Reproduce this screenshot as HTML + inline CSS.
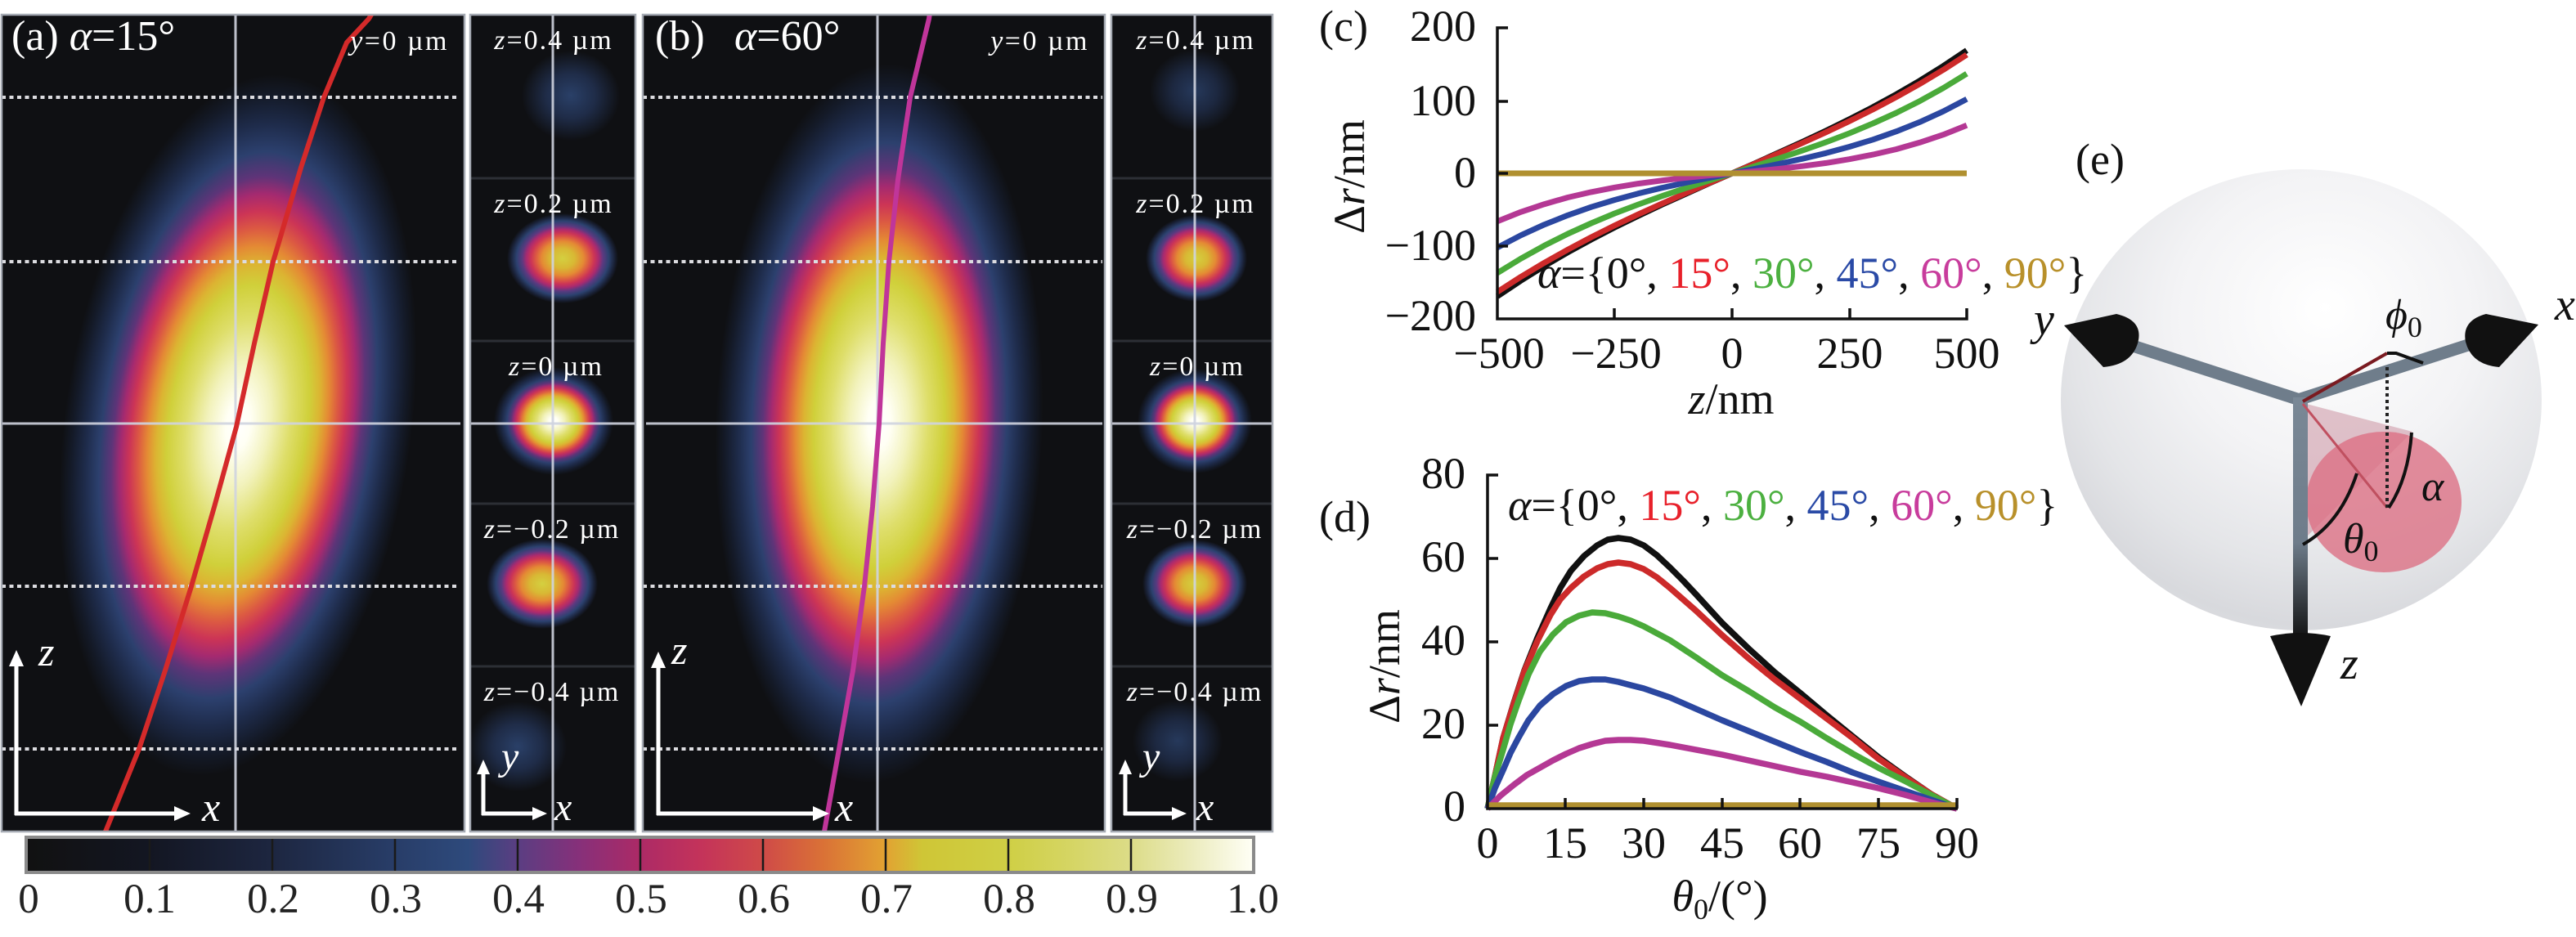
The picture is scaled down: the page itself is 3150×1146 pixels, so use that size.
<!DOCTYPE html>
<html><head><meta charset="utf-8"><style>
html,body{margin:0;padding:0;background:#fff}
#wrap{position:relative;width:3150px;height:1146px;overflow:hidden;font-family:"Liberation Serif","Noto Serif CJK SC","DejaVu Serif",serif}
svg{display:block;position:absolute;left:0;top:0}
.t{position:absolute;white-space:nowrap;line-height:0;font-family:"Liberation Serif","Noto Serif CJK SC","DejaVu Serif",serif;color:#111}
.m{transform:translateX(-50%)}
.e{transform:translateX(-100%)}
.t i{font-style:italic}
.s{font-size:36px;position:relative;top:10px;font-style:normal}
.w{color:#fff}
.rot{position:absolute;width:0;height:0;transform:rotate(-90deg);transform-origin:0 0}
</style></head>
<body>
<div id="wrap">
<svg width="3150" height="1146" viewBox="0 0 3150 1146" xmlns="http://www.w3.org/2000/svg">
<defs>
<radialGradient id="hot" cx="0.5" cy="0.5" r="0.5">
<stop offset="0" stop-color="#ffffff"/><stop offset="0.07" stop-color="#fffff4"/><stop offset="0.18" stop-color="#f2f2bc"/>
<stop offset="0.3" stop-color="#dede6a"/><stop offset="0.4" stop-color="#d0d03a"/><stop offset="0.46" stop-color="#dcb432"/>
<stop offset="0.51" stop-color="#e48a34"/><stop offset="0.56" stop-color="#dc5a42"/><stop offset="0.61" stop-color="#cc3456"/>
<stop offset="0.66" stop-color="#a42a70"/><stop offset="0.71" stop-color="#5e3478"/><stop offset="0.78" stop-color="#2c406e"/>
<stop offset="0.86" stop-color="#1e2b4a"/><stop offset="0.94" stop-color="#141a28"/><stop offset="1" stop-color="#0f1013"/>
</radialGradient>
<radialGradient id="mid" cx="0.5" cy="0.5" r="0.5">
<stop offset="0" stop-color="#d4d040"/><stop offset="0.22" stop-color="#d8b834"/><stop offset="0.38" stop-color="#e48a34"/>
<stop offset="0.48" stop-color="#dc5a42"/><stop offset="0.57" stop-color="#cc3456"/><stop offset="0.65" stop-color="#a82a70"/>
<stop offset="0.73" stop-color="#5a3a80"/><stop offset="0.83" stop-color="#2c4270"/><stop offset="0.93" stop-color="#1a2238"/>
<stop offset="1" stop-color="#0f1013"/>
</radialGradient>
<radialGradient id="faint" cx="0.5" cy="0.5" r="0.5">
<stop offset="0" stop-color="#2a4068"/><stop offset="0.5" stop-color="#1f2c48"/><stop offset="1" stop-color="#0f1013"/>
</radialGradient>
<linearGradient id="cbar" x1="0" y1="0" x2="1" y2="0">
<stop offset="0" stop-color="#111111"/><stop offset="0.1" stop-color="#131622"/><stop offset="0.2" stop-color="#1d2640"/>
<stop offset="0.3" stop-color="#283d68"/><stop offset="0.36" stop-color="#2e4a7c"/><stop offset="0.4" stop-color="#5a3e82"/>
<stop offset="0.45" stop-color="#86307a"/><stop offset="0.5" stop-color="#ac2a66"/><stop offset="0.55" stop-color="#c4335a"/>
<stop offset="0.6" stop-color="#cf4a48"/><stop offset="0.65" stop-color="#da7236"/><stop offset="0.7" stop-color="#e2a232"/>
<stop offset="0.73" stop-color="#cfc636"/><stop offset="0.8" stop-color="#cfcf45"/><stop offset="0.85" stop-color="#d5d563"/>
<stop offset="0.9" stop-color="#dcdc88"/><stop offset="0.95" stop-color="#ececbe"/><stop offset="1" stop-color="#fffff6"/>
</linearGradient>
<radialGradient id="sph" cx="0.55" cy="0.35" r="0.7" fx="0.55" fy="0.3">
<stop offset="0" stop-color="#ffffff"/><stop offset="0.45" stop-color="#f3f3f5"/><stop offset="0.75" stop-color="#e4e5e8"/>
<stop offset="0.92" stop-color="#d8d9dd"/><stop offset="1" stop-color="#dcdde0"/>
</radialGradient>
<linearGradient id="zarm" x1="0" y1="0" x2="0" y2="1">
<stop offset="0" stop-color="#7a8896"/><stop offset="0.6" stop-color="#6e7c8a"/><stop offset="1" stop-color="#111"/>
</linearGradient>
<clipPath id="ca"><rect x="2" y="18" width="566" height="999"/></clipPath>
<clipPath id="cas"><rect x="575" y="18" width="202" height="999"/></clipPath>
<clipPath id="cb"><rect x="786" y="18" width="565" height="999"/></clipPath>
<clipPath id="cbs"><rect x="1359" y="18" width="197" height="999"/></clipPath>
</defs>
<rect width="3150" height="1146" fill="#fff"/>

<!-- Panel (a) main -->
<g clip-path="url(#ca)">
<rect x="2" y="18" width="566" height="999" fill="#0f1013"/>
<ellipse cx="291" cy="520" rx="212" ry="432" fill="url(#hot)" transform="rotate(8 291 520)"/>
<g stroke="#dcdce0" stroke-width="4" stroke-dasharray="5 4.5">
<line x1="2" y1="119" x2="562" y2="119"/><line x1="2" y1="320" x2="562" y2="320"/>
<line x1="2" y1="717" x2="562" y2="717"/><line x1="2" y1="916" x2="562" y2="916"/>
</g>
<line x1="2" y1="518" x2="563" y2="518" stroke="#d0d4e0" stroke-width="3" opacity="0.9"/>
<line x1="288" y1="18" x2="288" y2="1017" stroke="#d0d4e0" stroke-width="3" opacity="0.9"/>
<polyline points="460,8 451,23 424,52 396,119 368,205 334,320 311,420 289,522 262,620 234,717 202,820 170,916 129,1017 124,1030" fill="none" stroke="#d42a2a" stroke-width="6" stroke-linejoin="round"/>
</g>
<rect x="2" y="18" width="566" height="999" fill="none" stroke="#a5aab3" stroke-width="2.5"/>
<g stroke="#fff" stroke-width="5" fill="none"><line x1="20" y1="997" x2="20" y2="812"/><line x1="18" y1="995" x2="215" y2="995"/></g>
<polygon points="20,795 11,815 29,815" fill="#fff"/><polygon points="233,995 213,986 213,1004" fill="#fff"/>

<!-- Panel (a) side -->
<g clip-path="url(#cas)">
<rect x="575" y="18" width="202" height="999" fill="#0f1013"/>
<ellipse cx="698" cy="117" rx="60" ry="55" fill="url(#faint)"/>
<ellipse cx="688" cy="316" rx="68" ry="55" fill="url(#mid)"/>
<ellipse cx="677" cy="515" rx="73" ry="66" fill="url(#hot)"/>
<ellipse cx="663" cy="714" rx="68" ry="55" fill="url(#mid)"/>
<ellipse cx="633" cy="913" rx="60" ry="55" fill="url(#faint)"/>
<g stroke="#2c2f35" stroke-width="3"><line x1="575" y1="218" x2="777" y2="218"/><line x1="575" y1="417" x2="777" y2="417"/><line x1="575" y1="616" x2="777" y2="616"/><line x1="575" y1="815" x2="777" y2="815"/></g>
<line x1="575" y1="518" x2="777" y2="518" stroke="#d0d4e0" stroke-width="3" opacity="0.9"/>
<line x1="676" y1="18" x2="676" y2="1017" stroke="#d0d4e0" stroke-width="3" opacity="0.9"/>
</g>
<rect x="575" y="18" width="202" height="999" fill="none" stroke="#a5aab3" stroke-width="2.5"/>
<g stroke="#fff" stroke-width="5" fill="none"><line x1="591" y1="997" x2="591" y2="945"/><line x1="589" y1="995" x2="652" y2="995"/></g>
<polygon points="591,929 583,947 599,947" fill="#fff"/><polygon points="669,995 651,987 651,1003" fill="#fff"/>

<!-- Panel (b) main -->
<g clip-path="url(#cb)">
<rect x="786" y="18" width="565" height="999" fill="#0f1013"/>
<ellipse cx="1075" cy="518" rx="200" ry="440" fill="url(#hot)" transform="rotate(2 1075 518)"/>
<g stroke="#dcdce0" stroke-width="4" stroke-dasharray="5 4.5">
<line x1="786" y1="119" x2="1348" y2="119"/><line x1="786" y1="320" x2="1348" y2="320"/>
<line x1="786" y1="717" x2="1348" y2="717"/><line x1="786" y1="916" x2="1348" y2="916"/>
</g>
<line x1="790" y1="518" x2="1348" y2="518" stroke="#d0d4e0" stroke-width="3" opacity="0.9"/>
<line x1="1073" y1="18" x2="1073" y2="1017" stroke="#d0d4e0" stroke-width="3" opacity="0.9"/>
<polyline points="1138,8 1136,23 1113,119 1098,220 1087,320 1080,420 1075,518 1067,620 1057,717 1043,820 1026,916 1008,1017 1005,1030" fill="none" stroke="#c0359a" stroke-width="6" stroke-linejoin="round"/>
</g>
<rect x="786" y="18" width="565" height="999" fill="none" stroke="#a5aab3" stroke-width="2.5"/>
<g stroke="#fff" stroke-width="5" fill="none"><line x1="805" y1="997" x2="805" y2="814"/><line x1="803" y1="995" x2="996" y2="995"/></g>
<polygon points="805,797 796,817 814,817" fill="#fff"/><polygon points="1014,995 994,986 994,1004" fill="#fff"/>

<!-- Panel (b) side -->
<g clip-path="url(#cbs)">
<rect x="1359" y="18" width="197" height="999" fill="#0f1013"/>
<ellipse cx="1461" cy="111" rx="55" ry="50" fill="url(#faint)" opacity="0.85"/>
<ellipse cx="1463" cy="316" rx="62" ry="53" fill="url(#mid)"/>
<ellipse cx="1461" cy="515" rx="70" ry="64" fill="url(#hot)"/>
<ellipse cx="1461" cy="714" rx="64" ry="54" fill="url(#mid)"/>
<ellipse cx="1440" cy="906" rx="55" ry="50" fill="url(#faint)" opacity="0.85"/>
<g stroke="#2c2f35" stroke-width="3"><line x1="1359" y1="218" x2="1556" y2="218"/><line x1="1359" y1="417" x2="1556" y2="417"/><line x1="1359" y1="616" x2="1556" y2="616"/><line x1="1359" y1="815" x2="1556" y2="815"/></g>
<line x1="1359" y1="518" x2="1556" y2="518" stroke="#d0d4e0" stroke-width="3" opacity="0.9"/>
<line x1="1461" y1="18" x2="1461" y2="1017" stroke="#d0d4e0" stroke-width="3" opacity="0.9"/>
</g>
<rect x="1359" y="18" width="197" height="999" fill="none" stroke="#a5aab3" stroke-width="2.5"/>
<g stroke="#fff" stroke-width="5" fill="none"><line x1="1376" y1="997" x2="1376" y2="945"/><line x1="1374" y1="995" x2="1433" y2="995"/></g>
<polygon points="1376,929 1368,947 1384,947" fill="#fff"/><polygon points="1451,995 1433,987 1433,1003" fill="#fff"/>

<!-- Colorbar -->
<rect x="32" y="1024" width="1501" height="43" fill="url(#cbar)" stroke="#8a8a8a" stroke-width="4"/>
<g stroke="#1a1a1a" stroke-width="2.5">
<line x1="183" y1="1026" x2="183" y2="1065"/><line x1="333" y1="1026" x2="333" y2="1065"/><line x1="483" y1="1026" x2="483" y2="1065"/>
<line x1="633" y1="1026" x2="633" y2="1065"/><line x1="783" y1="1026" x2="783" y2="1065"/><line x1="933" y1="1026" x2="933" y2="1065"/>
<line x1="1083" y1="1026" x2="1083" y2="1065"/><line x1="1233" y1="1026" x2="1233" y2="1065"/><line x1="1383" y1="1026" x2="1383" y2="1065"/>
</g>

<!-- Panel (c) -->
<g fill="none" stroke-width="7" stroke-linejoin="round">
<polyline stroke="#111" points="1831,362.4 1859.7,343.3 1888.4,325.4 1917.1,308.7 1945.8,293 1974.5,278.2 2003.2,264.1 2031.9,250.5 2060.6,237.5 2089.3,224.6 2118,212 2146.7,199.4 2175.4,186.5 2204.1,173.5 2232.8,159.9 2261.5,145.8 2290.2,131 2318.9,115.3 2347.6,98.6 2376.3,80.7 2405,61.6"/>
<polyline stroke="#cc2a2a" points="1831,357.1 1859.7,338.6 1888.4,321.4 1917.1,305.3 1945.8,290.1 1974.5,275.8 2003.2,262.2 2031.9,249.2 2060.6,236.6 2089.3,224.2 2118,212 2146.7,199.8 2175.4,187.4 2204.1,174.8 2232.8,161.8 2261.5,148.2 2290.2,133.9 2318.9,118.7 2347.6,102.6 2376.3,85.4 2405,66.9"/>
<polyline stroke="#4aaa3a" points="1831,333.9 1859.7,316.3 1888.4,300.4 1917.1,286 1945.8,273 1974.5,261 2003.2,250.1 2031.9,239.9 2060.6,230.3 2089.3,221.1 2118,212 2146.7,202.9 2175.4,193.7 2204.1,184.1 2232.8,173.9 2261.5,163 2290.2,151 2318.9,138 2347.6,123.6 2376.3,107.7 2405,90.1"/>
<polyline stroke="#2b47a0" points="1831,302.8 1859.7,287.8 1888.4,274.7 1917.1,263.3 1945.8,253.2 1974.5,244.5 2003.2,236.7 2031.9,229.8 2060.6,223.6 2089.3,217.7 2118,212 2146.7,206.3 2175.4,200.4 2204.1,194.2 2232.8,187.3 2261.5,179.5 2290.2,170.8 2318.9,160.7 2347.6,149.3 2376.3,136.2 2405,121.2"/>
<polyline stroke="#b43894" points="1831,270.7 1859.7,259.3 1888.4,249.7 1917.1,241.5 1945.8,234.9 1974.5,229.3 2003.2,224.6 2031.9,220.8 2060.6,217.5 2089.3,214.7 2118,212 2146.7,209.3 2175.4,206.5 2204.1,203.2 2232.8,199.4 2261.5,194.7 2290.2,189.1 2318.9,182.5 2347.6,174.3 2376.3,164.7 2405,153.3"/>
<line x1="1831" y1="212" x2="2405" y2="212" stroke="#b09030"/>
</g>
<g stroke="#111" stroke-width="3.5" fill="none">
<polyline points="1844,34 1831,34 1831,390 2405,390 2405,377"/>
<line x1="1831" y1="124" x2="1844" y2="124"/><line x1="1831" y1="212" x2="1844" y2="212"/><line x1="1831" y1="301" x2="1844" y2="301"/>
<line x1="1974" y1="390" x2="1974" y2="377"/><line x1="2118" y1="390" x2="2118" y2="377"/><line x1="2262" y1="390" x2="2262" y2="377"/>
</g>

<!-- Panel (d) -->
<g fill="none" stroke-width="7.5" stroke-linejoin="round">
<polyline stroke="#111" points="1819,989 1829,945 1838,903 1851,860 1864,820 1880,780 1896,744 1908,719 1921,698 1937,680 1953,667 1966,660 1979,658 1994,660 2010,667 2026,679 2042,694 2058,710 2074,727 2106,762 2138,793 2170,822 2202,848 2234,875 2266,901 2297,926 2329,949 2361,971 2393,989"/>
<polyline stroke="#cc2a2a" points="1819,989 1829,945 1838,903 1851,861 1864,821 1880,784 1896,752 1908,733 1921,719 1937,705 1953,695 1966,690 1979,688 1994,690 2010,696 2026,706 2042,719 2058,733 2074,747 2106,777 2138,805 2170,831 2202,855 2234,879 2266,903 2297,928 2329,950 2361,971 2393,989"/>
<polyline stroke="#4aaa3a" points="1819,989 1828,950 1838,917 1847,886 1857,857 1869,825 1883,797 1899,776 1915,761 1931,753 1947,749 1963,750 1979,754 1994,759 2010,766 2042,783 2074,804 2106,826 2138,845 2170,865 2202,883 2234,903 2266,922 2297,939 2329,955 2361,972 2393,989"/>
<polyline stroke="#2b47a0" points="1819,989 1828,964 1838,942 1847,921 1857,902 1869,881 1883,863 1899,849 1915,839 1931,833 1947,831 1963,831 1979,834 1994,838 2010,842 2042,853 2074,867 2106,881 2138,894 2170,907 2202,920 2234,932 2266,945 2297,956 2329,967 2361,978 2393,989"/>
<polyline stroke="#b43894" points="1819,989 1835,973 1851,960 1867,948 1883,939 1899,930 1915,922 1931,915 1947,910 1963,906 1979,905 1994,905 2010,906 2042,911 2074,917 2106,923 2138,930 2170,937 2202,944 2234,950 2266,957 2297,964 2329,972 2361,981 2393,989"/>
<line x1="1819" y1="985" x2="2393" y2="985" stroke="#b09030"/>
</g>
<g stroke="#111" stroke-width="3.5" fill="none">
<polyline points="1832,581 1819,581 1819,989 2394,989"/>
<line x1="1819" y1="683" x2="1832" y2="683"/><line x1="1819" y1="785" x2="1832" y2="785"/><line x1="1819" y1="887" x2="1832" y2="887"/>
<line x1="1914" y1="989" x2="1914" y2="976"/><line x1="2010" y1="989" x2="2010" y2="976"/><line x1="2106" y1="989" x2="2106" y2="976"/>
<line x1="2201" y1="989" x2="2201" y2="976"/><line x1="2297" y1="989" x2="2297" y2="976"/><line x1="2393" y1="989" x2="2393" y2="976"/>
</g>

<!-- Panel (e) -->
<ellipse cx="2814" cy="489" rx="294" ry="282" fill="url(#sph)"/>
<line x1="2812" y1="489" x2="2605" y2="422" stroke="#6f7d8b" stroke-width="15"/>
<line x1="2810" y1="489" x2="3018" y2="422" stroke="#6f7d8b" stroke-width="15"/>
<polygon points="2813,492 2950,528 2822,655" fill="#c88a9a" opacity="0.5"/>
<ellipse cx="2915" cy="614" rx="95" ry="86" fill="#dc7084" opacity="0.8"/>
<rect x="2804" y="486" width="18" height="296" fill="url(#zarm)"/>
<path d="M2776,778 Q2813,770 2850,778 L2814,864 Z" fill="#111"/>
<path d="M2524,398 L2588,384 Q2622,392 2614,420 Q2606,446 2572,449 Z" fill="#111"/>
<path d="M3104,397 L3040,384 Q3010,392 3015,418 Q3022,446 3056,449 Z" fill="#111"/>
<line x1="2816" y1="494" x2="2919" y2="621" stroke="#c05060" stroke-width="3"/>
<line x1="2816" y1="491" x2="2919" y2="432" stroke="#7a1a20" stroke-width="4"/>
<polyline points="2919,432 2930,432 2963,444" fill="none" stroke="#111" stroke-width="4"/>
<line x1="2919" y1="449" x2="2919" y2="621" stroke="#222" stroke-width="4" stroke-dasharray="4 4"/>
<path d="M2816,666 Q2862,640 2882,579" fill="none" stroke="#111" stroke-width="4"/>
<path d="M2921,621 Q2945,585 2949,529" fill="none" stroke="#111" stroke-width="4"/>
</svg>

<!-- ===== Text overlay (HTML) ===== -->
<!-- Panel (a) -->
<div class="t w" style="left:14px;top:44.5px;font-size:52px">(a) <i>α</i>=15°</div>
<div class="t w e" style="left:549px;top:50.5px;font-size:34px;letter-spacing:2.5px"><i>y</i>=0 µm</div>
<div class="t w" style="left:47px;top:797px;font-size:50px"><i>z</i></div>
<div class="t w" style="left:247px;top:987px;font-size:50px"><i>x</i></div>
<div class="t w m" style="left:677px;top:49.5px;font-size:34px;letter-spacing:2px"><i>z</i>=0.4 µm</div>
<div class="t w m" style="left:677px;top:249.5px;font-size:34px;letter-spacing:2px"><i>z</i>=0.2 µm</div>
<div class="t w m" style="left:680px;top:448.5px;font-size:34px;letter-spacing:2px"><i>z</i>=0 µm</div>
<div class="t w m" style="left:675px;top:647.5px;font-size:34px;letter-spacing:2px"><i>z</i>=−0.2 µm</div>
<div class="t w m" style="left:675px;top:846.5px;font-size:34px;letter-spacing:2px"><i>z</i>=−0.4 µm</div>
<div class="t w" style="left:613px;top:926px;font-size:48px"><i>y</i></div>
<div class="t w" style="left:678px;top:988px;font-size:48px"><i>x</i></div>

<!-- Panel (b) -->
<div class="t w" style="left:801px;top:44.5px;font-size:52px">(b)</div>
<div class="t w" style="left:898px;top:44.5px;font-size:52px"><i>α</i>=60°</div>
<div class="t w e" style="left:1332px;top:50.5px;font-size:34px;letter-spacing:2.5px"><i>y</i>=0 µm</div>
<div class="t w" style="left:821px;top:795px;font-size:50px"><i>z</i></div>
<div class="t w" style="left:1021px;top:987px;font-size:50px"><i>x</i></div>
<div class="t w m" style="left:1462px;top:49.5px;font-size:34px;letter-spacing:2px"><i>z</i>=0.4 µm</div>
<div class="t w m" style="left:1462px;top:249.5px;font-size:34px;letter-spacing:2px"><i>z</i>=0.2 µm</div>
<div class="t w m" style="left:1464px;top:448.5px;font-size:34px;letter-spacing:2px"><i>z</i>=0 µm</div>
<div class="t w m" style="left:1461px;top:647.5px;font-size:34px;letter-spacing:2px"><i>z</i>=−0.2 µm</div>
<div class="t w m" style="left:1461px;top:846.5px;font-size:34px;letter-spacing:2px"><i>z</i>=−0.4 µm</div>
<div class="t w" style="left:1397px;top:926px;font-size:48px"><i>y</i></div>
<div class="t w" style="left:1463px;top:988px;font-size:48px"><i>x</i></div>

<!-- Colorbar labels -->
<div class="t m" style="left:35px;top:1100px;font-size:51px;color:#222">0</div>
<div class="t m" style="left:183px;top:1100px;font-size:51px;color:#222">0.1</div>
<div class="t m" style="left:334px;top:1100px;font-size:51px;color:#222">0.2</div>
<div class="t m" style="left:484px;top:1100px;font-size:51px;color:#222">0.3</div>
<div class="t m" style="left:634px;top:1100px;font-size:51px;color:#222">0.4</div>
<div class="t m" style="left:784px;top:1100px;font-size:51px;color:#222">0.5</div>
<div class="t m" style="left:934px;top:1100px;font-size:51px;color:#222">0.6</div>
<div class="t m" style="left:1084px;top:1100px;font-size:51px;color:#222">0.7</div>
<div class="t m" style="left:1234px;top:1100px;font-size:51px;color:#222">0.8</div>
<div class="t m" style="left:1384px;top:1100px;font-size:51px;color:#222">0.9</div>
<div class="t m" style="left:1532px;top:1100px;font-size:51px;color:#222">1.0</div>

<!-- Panel (c) -->
<div class="t" style="left:1613px;top:32px;font-size:54px">(c)</div>
<div class="t e" style="left:1805px;top:32px;font-size:54px">200</div>
<div class="t e" style="left:1805px;top:123px;font-size:54px">100</div>
<div class="t e" style="left:1805px;top:211px;font-size:54px">0</div>
<div class="t e" style="left:1805px;top:300px;font-size:54px">−100</div>
<div class="t e" style="left:1805px;top:386px;font-size:54px">−200</div>
<div class="t m" style="left:1833px;top:432px;font-size:54px">−500</div>
<div class="t m" style="left:1976px;top:432px;font-size:54px">−250</div>
<div class="t m" style="left:2118px;top:432px;font-size:54px">0</div>
<div class="t m" style="left:2262px;top:432px;font-size:54px">250</div>
<div class="t m" style="left:2405px;top:432px;font-size:54px">500</div>
<div class="t m" style="left:2117px;top:488px;font-size:54px"><i>z</i>/nm</div>
<div class="rot" style="left:1668px;top:216px"><div class="t m" style="left:0;top:-18px;font-size:54px">Δ<i>r</i>/nm</div></div>
<div class="t" style="left:1880px;top:334px;font-size:54px"><i>α</i>={0°, <span style="color:#e8202a">15°</span>, <span style="color:#4cb040">30°</span>, <span style="color:#2a4aa6">45°</span>, <span style="color:#c83c9c">60°</span>, <span style="color:#b8902a">90°</span>}</div>

<!-- Panel (d) -->
<div class="t" style="left:1613px;top:632px;font-size:54px">(d)</div>
<div class="t e" style="left:1792px;top:579px;font-size:54px">80</div>
<div class="t e" style="left:1792px;top:681px;font-size:54px">60</div>
<div class="t e" style="left:1792px;top:783px;font-size:54px">40</div>
<div class="t e" style="left:1792px;top:885px;font-size:54px">20</div>
<div class="t e" style="left:1792px;top:986px;font-size:54px">0</div>
<div class="t m" style="left:1819px;top:1031px;font-size:54px">0</div>
<div class="t m" style="left:1914px;top:1031px;font-size:54px">15</div>
<div class="t m" style="left:2010px;top:1031px;font-size:54px">30</div>
<div class="t m" style="left:2106px;top:1031px;font-size:54px">45</div>
<div class="t m" style="left:2201px;top:1031px;font-size:54px">60</div>
<div class="t m" style="left:2297px;top:1031px;font-size:54px">75</div>
<div class="t m" style="left:2393px;top:1031px;font-size:54px">90</div>
<div class="t m" style="left:2103px;top:1096px;font-size:54px"><i>θ</i><span class="s">0</span>/(°)</div>
<div class="rot" style="left:1711px;top:815px"><div class="t m" style="left:0;top:-18px;font-size:54px">Δ<i>r</i>/nm</div></div>
<div class="t" style="left:1844px;top:618px;font-size:54px"><i>α</i>={0°, <span style="color:#e8202a">15°</span>, <span style="color:#4cb040">30°</span>, <span style="color:#2a4aa6">45°</span>, <span style="color:#c83c9c">60°</span>, <span style="color:#b8902a">90°</span>}</div>

<!-- Panel (e) -->
<div class="t" style="left:2538px;top:195px;font-size:54px">(e)</div>
<div class="t" style="left:3124px;top:373px;font-size:56px"><i>x</i></div>
<div class="t" style="left:2862px;top:812px;font-size:56px"><i>z</i></div>
<div class="t" style="left:2487px;top:391px;font-size:56px"><i>y</i></div>
<div class="t" style="left:2961px;top:596px;font-size:52px"><i>α</i></div>
<div class="t" style="left:2917px;top:386px;font-size:52px"><i>ϕ</i><span class="s">0</span></div>
<div class="t" style="left:2865px;top:660px;font-size:52px"><i>θ</i><span class="s">0</span></div>
</div>
</body></html>
